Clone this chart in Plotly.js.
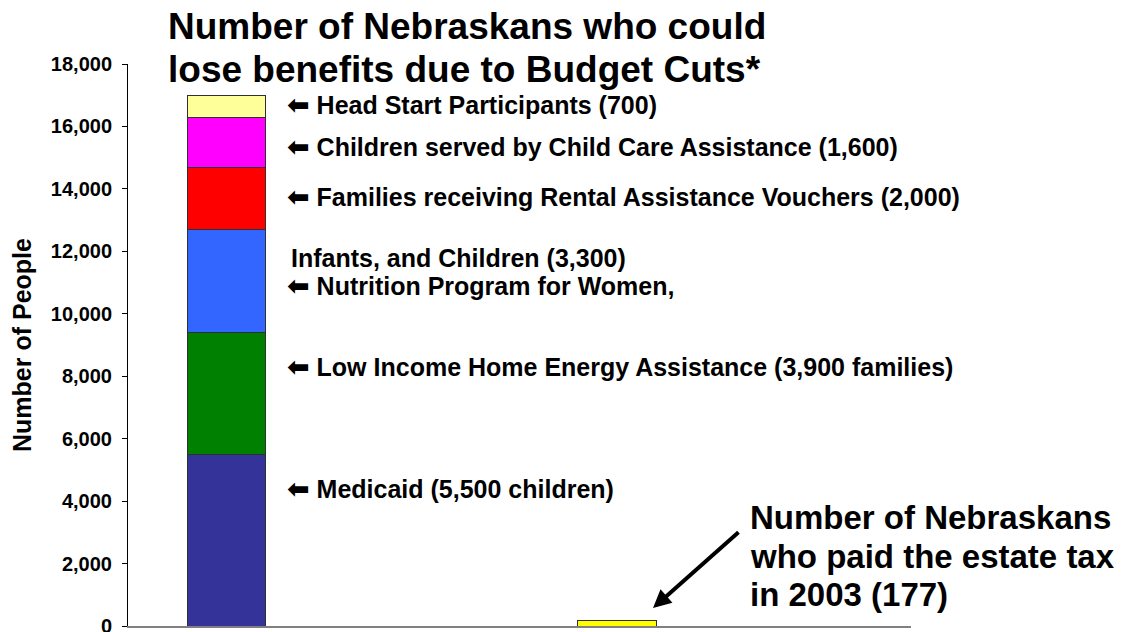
<!DOCTYPE html>
<html>
<head>
<meta charset="utf-8">
<script src="https://cdn.plot.ly/plotly-3.0.1.min.js"></script>
<style>html,body{margin:0;padding:0;background:#fff;}#chart{width:1122px;height:632px;}</style>
</head>
<body>
<div id="chart"></div>
<script>
// Data
const categories = ["Budget Cuts", "Estate Tax"];
const programs = [
  "Medicaid",
  "Low Income Home Energy Assistance",
  "Nutrition Program for Women, Infants, and Children",
  "Rental Assistance Vouchers",
  "Child Care Assistance",
  "Head Start"
];
const programValues = [5500, 3900, 3300, 2000, 1600, 700];
const programColors = ["#333399", "#008000", "#3366FF", "#FF0000", "#FF00FF", "#FFFF99"];
const estateTaxPayers = [177];
const estateColor = "#FFFF00";
const labelTexts = [
  "Medicaid (5,500 children)",
  "Low Income Home Energy Assistance (3,900 families)",
  "Nutrition Program for Women,",
  "Families receiving Rental Assistance Vouchers (2,000)",
  "Children served by Child Care Assistance (1,600)",
  "Head Start Participants (700)"
];
const extraLabel = "Infants, and Children (3,300)";
const estateLines = ["Number of Nebraskans", "who paid the estate tax", "in 2003 (177)"];
const titleLines = ["Number of Nebraskans who could", "lose benefits due to Budget Cuts*"];
const yTicks = [0, 2000, 4000, 6000, 8000, 10000, 12000, 14000, 16000, 18000];

const FONT = "Liberation Sans, Arial, sans-serif";
const ARROW = "<span style='font-family:DejaVu Sans;font-size:27px'>\u2B05</span> ";

// pixel helpers for annotation placement (plot area: x 128..911, y 64..626)
const px = v => (v - 128) / 783;
const py = v => (626 - v) / 562;

const traces = programs.map((p, i) => ({
  type: "bar",
  name: p,
  x: [categories[0]],
  y: [programValues[i]],
  width: 0.2,
  marker: {color: programColors[i], line: {color: "#303030", width: 1}}
}));
traces.push({
  type: "bar",
  name: "Estate tax payers",
  x: [categories[1]],
  y: estateTaxPayers,
  width: 0.2,
  marker: {color: estateColor, line: {color: "#303030", width: 1}}
});

// label vertical positions (value units)
const labelY = [4420, 8300, 10890, 13750, 15350, 16700];
const annotations = labelTexts.map((t, i) => ({
  text: "<b>" + ARROW + t + "</b>",
  xref: "paper", yref: "y",
  x: px(285), y: labelY[i],
  xanchor: "left", yanchor: "middle",
  showarrow: false,
  font: {family: FONT, size: 25, color: "#000"}
}));
annotations.push({
  text: "<b>" + extraLabel + "</b>",
  xref: "paper", yref: "y",
  x: px(289), y: 11790,
  xanchor: "left", yanchor: "middle",
  showarrow: false,
  font: {family: FONT, size: 25, color: "#000"}
});
const estateCenters = [517, 556, 594];
estateLines.forEach((t, i) => annotations.push({
  text: "<b>" + t + "</b>",
  xref: "paper", yref: "paper",
  x: px(748), y: py(estateCenters[i]),
  xanchor: "left", yanchor: "middle",
  showarrow: false,
  font: {family: FONT, size: 33, color: "#000"}
}));
const titleCenters = [26, 69];
titleLines.forEach((t, i) => annotations.push({
  text: "<b>" + t + "</b>",
  xref: "paper", yref: "paper",
  x: px(166), y: py(titleCenters[i]),
  xanchor: "left", yanchor: "middle",
  showarrow: false,
  font: {family: FONT, size: 37, color: "#000"}
}));
annotations.push({
  text: "",
  xref: "paper", yref: "paper",
  x: px(653), y: py(608),
  showarrow: true, arrowhead: 2, arrowsize: 0.9, arrowwidth: 4, arrowcolor: "#000",
  ax: 87, ay: -77
});

const layout = {
  width: 1122, height: 632,
  margin: {l: 128, r: 211, t: 64, b: 6},
  paper_bgcolor: "#fff", plot_bgcolor: "#fff",
  barmode: "stack",
  showlegend: false,
  font: {family: FONT, color: "#000"},
  xaxis: {
    type: "category",
    range: [-0.2522, 1.7529],
    showticklabels: false, ticks: "",
    showline: true, linecolor: "#808080", linewidth: 2,
    showgrid: false, zeroline: false, fixedrange: true
  },
  yaxis: {
    range: [0, 18000],
    tickvals: yTicks,
    tickformat: ",d",
    ticks: "outside", ticklen: 5, tickcolor: "#000", tickwidth: 1,
    ticklabelstandoff: 6,
    ticklabeloverflow: "allow",
    showline: true, linecolor: "#000", linewidth: 1,
    showgrid: false, zeroline: false,
    tickfont: {family: FONT, size: 20, color: "#000", weight: "bold"},
    title: {text: "<b>Number of People</b>", font: {family: FONT, size: 25, color: "#000"}, standoff: 12}
  },
  annotations: annotations
};

Plotly.newPlot("chart", traces, layout, {staticPlot: true});
</script>
</body>
</html>
